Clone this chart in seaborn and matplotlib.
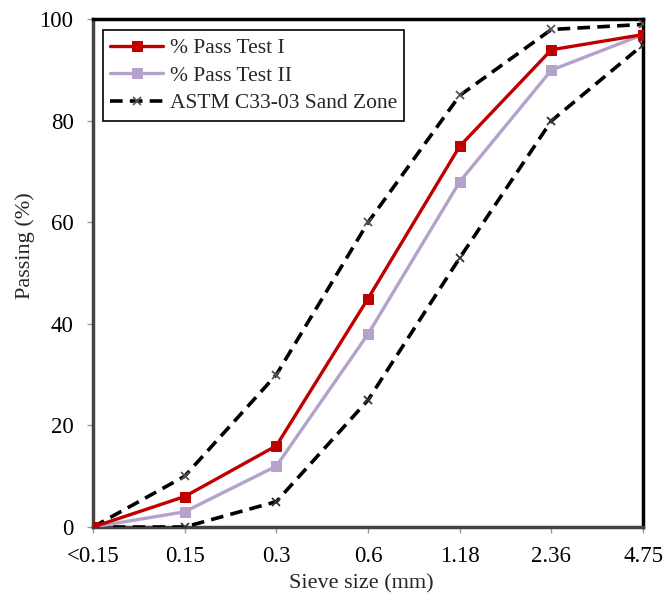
import matplotlib
matplotlib.use("Agg")
import matplotlib.pyplot as plt
import seaborn as sns
import pandas as pd

sieve = ["<0.15", "0.15", "0.3", "0.6", "1.18", "2.36", "4.75"]
test1 = [0, 6, 16, 45, 75, 94, 97]
test2 = [0, 3, 12, 38, 68, 90, 97]
astm_upper = [0, 10, 30, 60, 85, 98, 99]
astm_lower = [0, 0, 5, 25, 53, 80, 95]

sns.set_theme(style="white")
plt.rcParams['font.family'] = ['Liberation Serif', 'DejaVu Serif']

fig = plt.figure(figsize=(6.66, 5.98), dpi=100)
ax = fig.add_axes([0.1396, 0.1187, 0.826, 0.849])

pos = list(range(len(sieve)))
df = pd.DataFrame({"pos": pos, "t1": test1, "t2": test2, "up": astm_upper, "lo": astm_lower})

sns.lineplot(data=df, x="pos", y="up", ax=ax, color="black", linestyle=(0, (3.5, 2)), lw=2.6,
             marker="x", markersize=6, markeredgecolor="#555555", markeredgewidth=1.3,
             label="ASTM C33-03 Sand Zone", sort=False, zorder=3)
sns.lineplot(data=df, x="pos", y="lo", ax=ax, color="black", linestyle=(0, (3.5, 2)), lw=2.6,
             marker="x", markersize=6, markeredgecolor="#333333", markeredgewidth=1.3,
             label="_nolegend_", sort=False, zorder=3)
sns.lineplot(data=df, x="pos", y="t2", ax=ax, color="#B4A2CA", lw=2.4,
             marker="s", markersize=7.5, markeredgecolor="#B4A2CA",
             label="% Pass Test II", sort=False, zorder=4)
sns.lineplot(data=df, x="pos", y="t1", ax=ax, color="#C00000", lw=2.4,
             marker="s", markersize=7.5, markeredgecolor="#C00000",
             label="% Pass Test I", sort=False, zorder=5)

ax.set_xlim(0, 6)
ax.set_ylim(0, 100)
ax.set_xticks(pos)
ax.set_xticklabels(sieve)
ax.set_yticks([0, 20, 40, 60, 80, 100])
ax.tick_params(axis="both", labelsize=16.5, labelcolor="black", length=4, width=1, direction="out",
               bottom=True, left=True, pad=10, color="#999999")
ax.set_xlabel("Sieve size (mm)", fontsize=16)
ax.set_ylabel("Passing (%)", fontsize=16)
ax.xaxis.set_label_coords(0.487, -0.093)
ax.yaxis.set_label_coords(-0.105, 0.555)

for side in ["left", "bottom"]:
    ax.spines[side].set_color("#444444")
    ax.spines[side].set_linewidth(2.5)
for side in ["top", "right"]:
    ax.spines[side].set_color("black")
    ax.spines[side].set_linewidth(2.5)
    ax.spines[side].set_visible(True)

handles, labels = ax.get_legend_handles_labels()
order = [labels.index("% Pass Test I"), labels.index("% Pass Test II"), labels.index("ASTM C33-03 Sand Zone")]
leg = ax.legend([handles[i] for i in order], [labels[i] for i in order],
                loc="upper left", bbox_to_anchor=(0.018, 0.978), borderaxespad=0, fontsize=15.5,
                frameon=True, fancybox=False, edgecolor="black", framealpha=1,
                borderpad=0.35, labelspacing=0.35, handlelength=2.45, handletextpad=0.3)
leg.get_frame().set_linewidth(1.2)

fig.savefig("out.png", dpi=100)
